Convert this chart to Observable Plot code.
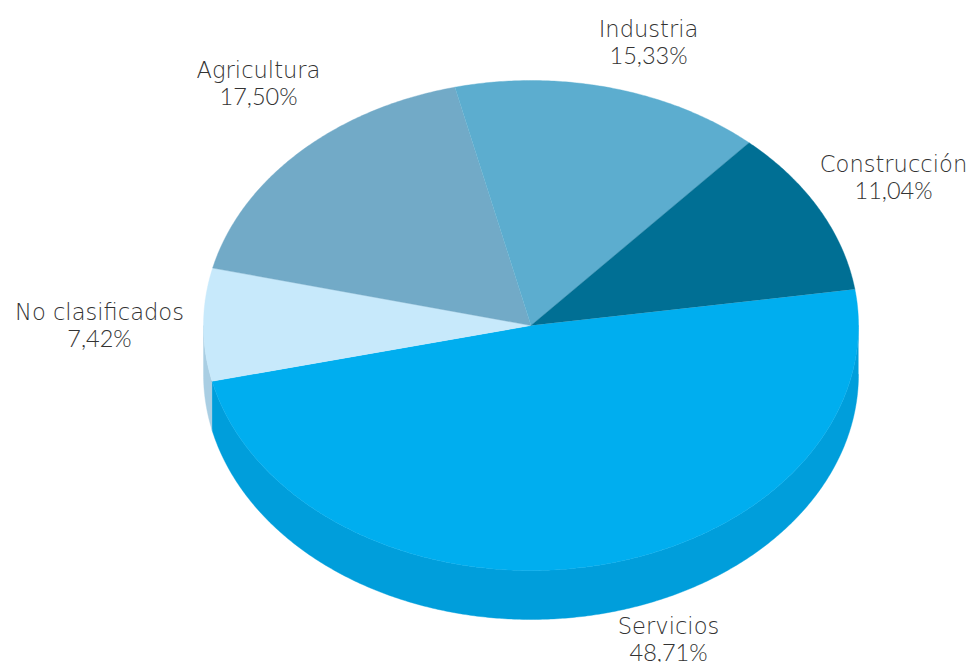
<!DOCTYPE html>
<html>
<head>
<meta charset="utf-8">
<style>html,body{margin:0;padding:0;background:#fff;overflow:hidden}svg{display:block}</style>
<script src="https://cdn.jsdelivr.net/npm/d3@7"></script>
<script src="https://cdn.jsdelivr.net/npm/@observablehq/plot@0.6"></script>
</head>
<body>
<div id="chart"></div>
<script>
// Data, clockwise from the right-hand edge of "Servicios"
const sectors = ["Servicios", "No clasificados", "Agricultura", "Industria", "Construcción"];
const shares = [48.71, 7.42, 17.50, 15.33, 11.04];
const shareLabels = ["48,71%", "7,42%", "17,50%", "15,33%", "11,04%"];
const topColors = ["#00aeef", "#c7e9fb", "#72aac7", "#5cadcf", "#006f94"];
const wallColors = ["#009edb", "#a9cee3"];

// Layout of the drawing (pie seen in perspective, unit-circle coordinates)
const startAngle = -8.5;
const depth = 0.2;
const step = 0.5;
const px = {x0: 203, x1: 858, y0: 80, y1: 570};
const labelAt = {
  "Servicios": [668, 639], "No clasificados": [99, 325], "Agricultura": [258, 83],
  "Industria": [648, 42], "Construcción": [893, 177]
};

const rad = (d) => (d * Math.PI) / 180;
const pt = (t, dy = 0) => ({x: Math.cos(rad(t)), y: Math.sin(rad(t)) + dy});

let a = startAngle;
const slices = shares.map((s, i) => {
  const a0 = a;
  a += (s / d3.sum(shares)) * 360;
  return {i, name: sectors[i], a0, a1: a};
});

const arc = (a0, a1, dy = 0) => {
  const r = [];
  for (let t = a0; t < a1; t += step) r.push(pt(t, dy));
  r.push(pt(a1, dy));
  return r;
};

const topRows = slices.flatMap((s) =>
  [{x: 0, y: 0}, ...arc(s.a0, s.a1)].map((p) => ({...p, key: s.name, fill: topColors[s.i]}))
);

const wall = (a0, a1, key, fill) =>
  [...arc(a0, a1), ...arc(a0, a1, depth).reverse()].map((p) => ({...p, key, fill}));
const wallRows = [
  ...wall(0, slices[0].a1, "wall-a", wallColors[0]),
  ...wall(slices[0].a1, 180, "wall-b", wallColors[1])
];

const xs = d3.scaleLinear([px.x0, px.x1], [-1, 1]);
const ys = d3.scaleLinear([px.y0, px.y1], [-1, 1]);
const labels = sectors.map((n, i) => ({
  x: xs(labelAt[n][0]), y: ys(labelAt[n][1]), name: n, share: shareLabels[i]
}));

const shape = (rows) => Plot.line(rows, {
  x: "x", y: "y", z: "key", fill: "fill", stroke: "fill", strokeWidth: 0.4, curve: "linear"
});

const chart = Plot.plot({
  width: 970, height: 662, margin: 0,
  style: {background: "#fff"},
  x: {type: "linear", domain: [-1, 1], range: [px.x0, px.x1], axis: null},
  y: {type: "linear", domain: [-1, 1], range: [px.y0, px.y1], axis: null},
  marks: [
    shape(wallRows),
    shape(topRows),
    Plot.text(labels, {
      x: "x", y: "y", text: "name", dy: -13, textAnchor: "middle", lineAnchor: "middle",
      fontSize: 22.6, fill: "#333333",
      fontFamily: "'DejaVu Sans', 'Open Sans', sans-serif", fontWeight: 200
    }),
    Plot.text(labels, {
      x: "x", y: "y", text: "share", dy: 14, textAnchor: "middle", lineAnchor: "middle",
      fontSize: 23.5, fill: "#333333",
      fontFamily: "Lato, 'Open Sans', sans-serif", fontWeight: 300
    })
  ]
});
document.getElementById("chart").appendChild(chart);
</script>
</body>
</html>
